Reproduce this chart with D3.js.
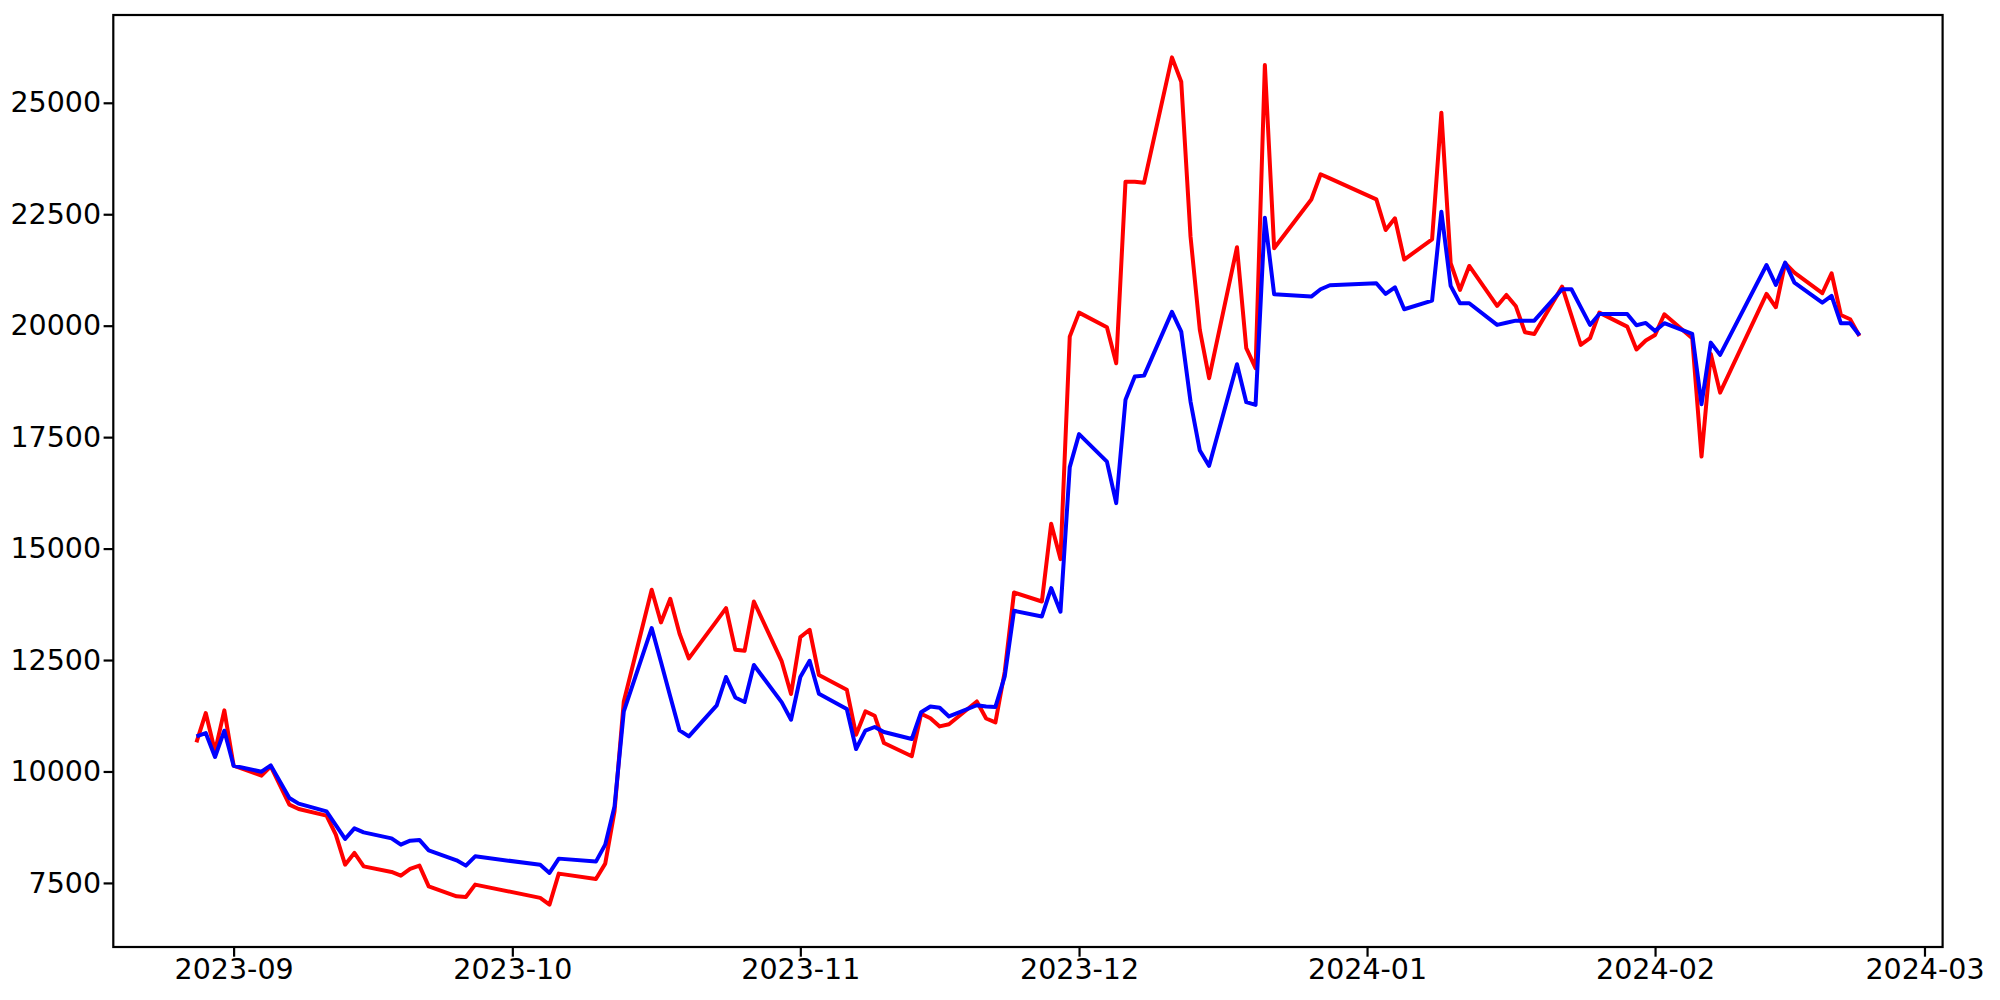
<!DOCTYPE html>
<html>
<head>
<meta charset="utf-8">
<script src="https://cdn.jsdelivr.net/npm/d3@7"></script>
<style>
  body { margin: 0; background: #fff; }
  svg { display: block; font-family: 'DejaVu Sans', sans-serif; }
</style>
</head>
<body>
<svg width="2000" height="1000"></svg>
<script>
// data
const dates = [
  '2023-08-28', '2023-08-29', '2023-08-30', '2023-08-31', '2023-09-01',
  '2023-09-04', '2023-09-05', '2023-09-07', '2023-09-08',
  '2023-09-11', '2023-09-12', '2023-09-13', '2023-09-14', '2023-09-15',
  '2023-09-18', '2023-09-19', '2023-09-20', '2023-09-21', '2023-09-22',
  '2023-09-25', '2023-09-26', '2023-09-27',
  '2023-10-04', '2023-10-05', '2023-10-06',
  '2023-10-10', '2023-10-11', '2023-10-12', '2023-10-13',
  '2023-10-16', '2023-10-17', '2023-10-18', '2023-10-19', '2023-10-20',
  '2023-10-23', '2023-10-24', '2023-10-25', '2023-10-26', '2023-10-27',
  '2023-10-30', '2023-10-31', '2023-11-01', '2023-11-02', '2023-11-03',
  '2023-11-06', '2023-11-07', '2023-11-08', '2023-11-09', '2023-11-10',
  '2023-11-13', '2023-11-14', '2023-11-15', '2023-11-16', '2023-11-17',
  '2023-11-20', '2023-11-21', '2023-11-22', '2023-11-23', '2023-11-24',
  '2023-11-27', '2023-11-28', '2023-11-29', '2023-11-30', '2023-12-01',
  '2023-12-04', '2023-12-05', '2023-12-06', '2023-12-07', '2023-12-08',
  '2023-12-11', '2023-12-12', '2023-12-13', '2023-12-14', '2023-12-15',
  '2023-12-18', '2023-12-19', '2023-12-20', '2023-12-21', '2023-12-22',
  '2023-12-26', '2023-12-27', '2023-12-28',
  '2024-01-02', '2024-01-03', '2024-01-04', '2024-01-05',
  '2024-01-08', '2024-01-09', '2024-01-10', '2024-01-11', '2024-01-12',
  '2024-01-15', '2024-01-16', '2024-01-17', '2024-01-18', '2024-01-19',
  '2024-01-22', '2024-01-23', '2024-01-24', '2024-01-25', '2024-01-26',
  '2024-01-29', '2024-01-30', '2024-01-31', '2024-02-01', '2024-02-02',
  '2024-02-05', '2024-02-06', '2024-02-07', '2024-02-08',
  '2024-02-13', '2024-02-14', '2024-02-15', '2024-02-16',
  '2024-02-19', '2024-02-20', '2024-02-21', '2024-02-22', '2024-02-23'
];

const redValues = [
  10652, 11311, 10450, 11370, 10130,
  9906, 10114, 9255, 9159,
  9009, 8583, 7910, 8173, 7872,
  7747, 7664, 7814, 7888, 7424,
  7200, 7186, 7462,
  7164, 7013, 7709,
  7590, 7933, 9105, 11571,
  14076, 13343, 13874, 13089, 12536,
  13379, 13666, 12731, 12708, 13813,
  12468, 11737, 13015, 13179, 12163,
  11834, 10825, 11347, 11251, 10639,
  10343, 11296, 11195, 11011, 11058,
  11571, 11188, 11101, 12237, 14015,
  13813, 15556, 14764, 19755, 20293,
  19966, 19158, 23230, 23230, 23207,
  26019, 25472, 21997, 19905, 18822,
  21759, 19495, 19046, 25846, 21737,
  22831, 23396, 23303,
  22835, 22147, 22409, 21483,
  21938, 24777, 21400, 20802, 21340,
  20443, 20690, 20443, 19853, 19815,
  20876, 20226, 19569, 19719, 20293,
  19979, 19466, 19667, 19793, 20257,
  19719, 17064, 19367, 18499,
  20712, 20414, 21400, 21190,
  20728, 21176, 20241, 20145, 19770
];

const blueValues = [
  10787, 10863, 10325, 10915, 10130,
  9995, 10137, 9406, 9278,
  9105, 8796, 8486, 8724, 8634,
  8500, 8359, 8448, 8464, 8231,
  8007, 7888, 8096,
  7906, 7724, 8045,
  7978, 8359, 9217, 11347,
  13217, 12455, 11684, 10921, 10787,
  11482, 12119, 11661, 11558, 12388,
  11549, 11161, 12119, 12484, 11744,
  11401, 10504, 10915, 10998, 10885,
  10728, 11329, 11459, 11430, 11235,
  11486, 11459, 11448, 12132, 13605,
  13477, 14114, 13583, 16827, 17567,
  16952, 16020, 18336, 18858, 18880,
  20309, 19867, 18297, 17199, 16856,
  19136, 18284, 18223, 22423, 20705,
  20652, 20817, 20907,
  20952, 20712, 20862, 20369,
  20562, 22557, 20892, 20504, 20504,
  20017, 20066, 20113, 20113, 20113,
  20817, 20817, 20416, 20017, 20264,
  20262, 20010, 20062, 19883, 20055,
  19815, 18239, 19620, 19345,
  21362, 20914, 21414, 20965,
  20517, 20667, 20055, 20055, 19786
];

const xTickMonths = ['2023-09-01', '2023-10-01', '2023-11-01', '2023-12-01', '2024-01-01', '2024-02-01', '2024-03-01'];
const yTickValues = [7500, 10000, 12500, 15000, 17500, 20000, 22500, 25000];

// layout
const svg = d3.select('svg');
const plot = { left: 113.3, right: 1942.6, top: 15, bottom: 947 };
const fontSize = 28.5;
const tickLen = 9.7;

const parse = d3.utcParse('%Y-%m-%d');
const times = dates.map(parse);

// matplotlib style 5% margins
const tExt = d3.extent(times);
const tPad = (tExt[1] - tExt[0]) * 0.05;
const allValues = redValues.concat(blueValues);
const vMin = d3.min(allValues), vMax = d3.max(allValues);
const vPad = (vMax - vMin) * 0.05;

const x = d3.scaleUtc()
  .domain([new Date(+tExt[0] - tPad), new Date(+tExt[1] + tPad)])
  .range([plot.left, plot.right]);
const y = d3.scaleLinear()
  .domain([vMin - vPad, vMax + vPad])
  .range([plot.bottom, plot.top]);

// axes
const xAxis = svg.append('g')
  .attr('transform', `translate(0,${plot.bottom})`)
  .call(d3.axisBottom(x)
    .tickValues(xTickMonths.map(parse))
    .tickFormat(d3.utcFormat('%Y-%m'))
    .tickSize(tickLen)
    .tickPadding(2.5));

const yAxis = svg.append('g')
  .attr('transform', `translate(${plot.left},0)`)
  .call(d3.axisLeft(y)
    .tickValues(yTickValues)
    .tickFormat(d3.format('d'))
    .tickSize(tickLen)
    .tickPadding(2.5));

[xAxis, yAxis].forEach((g) => {
  g.select('.domain').remove();
  g.selectAll('.tick line').attr('stroke', '#000').attr('stroke-width', 2.2);
  g.selectAll('.tick text')
    .attr('fill', '#000')
    .style('font-size', fontSize + 'px')
    .style('font-family', "'DejaVu Sans', sans-serif");
});

// lines
const line = d3.line()
  .x((d, i) => x(times[i]))
  .y((d) => y(d));

svg.append('path')
  .datum(redValues)
  .attr('d', line)
  .attr('fill', 'none')
  .attr('stroke', 'red')
  .attr('stroke-width', 4)
  .attr('stroke-linejoin', 'round');

svg.append('path')
  .datum(blueValues)
  .attr('d', line)
  .attr('fill', 'none')
  .attr('stroke', 'blue')
  .attr('stroke-width', 4)
  .attr('stroke-linejoin', 'round');

// frame
svg.append('rect')
  .attr('x', plot.left)
  .attr('y', plot.top)
  .attr('width', plot.right - plot.left)
  .attr('height', plot.bottom - plot.top)
  .attr('fill', 'none')
  .attr('stroke', '#000')
  .attr('stroke-width', 2.2);
</script>
</body>
</html>
